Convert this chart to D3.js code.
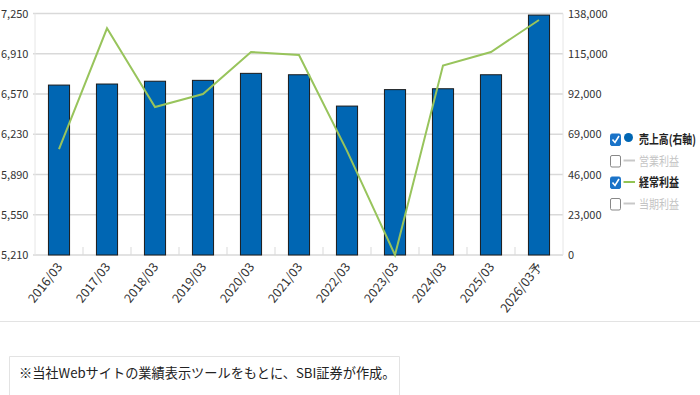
<!DOCTYPE html>
<html><head><meta charset="utf-8">
<script src="https://cdn.jsdelivr.net/npm/d3@7"></script>
<style>
body{margin:0;background:#fff;}
svg{display:block;font-family:"Noto Sans CJK JP","Noto Sans",sans-serif;}
</style></head>
<body><svg id="c" width="700" height="395"></svg>
<script>
const categories = ["2016/03","2017/03","2018/03","2019/03","2020/03","2021/03","2022/03","2023/03","2024/03","2025/03","2026/03予"];
const sales = [97100,97700,99300,99800,103800,103000,85100,94500,95000,103000,137100];
const ordinaryProfit = [6105,7125,6460,6570,6925,6900,6090,5210,6810,6925,7195];
const leftTicks = [5210,5550,5890,6230,6570,6910,7250];
const rightTicks = [0,23000,46000,69000,92000,115000,138000];
const legendItems = [
  {label:"売上高(右軸)", checked:true, kind:"dot", color:"#0066b3"},
  {label:"営業利益", checked:false, kind:"line", color:"#c8c8c8"},
  {label:"経常利益", checked:true, kind:"line", color:"#92c353"},
  {label:"当期利益", checked:false, kind:"line", color:"#c8c8c8"}
];
const note = "※当社Webサイトの業績表示ツールをもとに、SBI証券が作成。";

const svg = d3.select("#c");
const L=35, R=563, T=13.5, B=255;
const x = d3.scaleBand().domain(categories).range([L,R]).paddingInner(0.56).paddingOuter(0.28);
const yL = d3.scaleLinear().domain([5210,7250]).range([B,T]);
const yR = d3.scaleLinear().domain([0,138000]).range([B,T]);

// gridlines
svg.append("g").selectAll("line").data(leftTicks).join("line")
  .attr("x1",L-2).attr("x2",R).attr("y1",d=>yL(d)).attr("y2",d=>yL(d))
  .attr("stroke","#d9d9d9").attr("stroke-width",1.5);
// axis verticals
svg.append("line").attr("x1",L).attr("x2",L).attr("y1",T).attr("y2",B).attr("stroke","#e6e6e6");
svg.append("line").attr("x1",R).attr("x2",R).attr("y1",T).attr("y2",B).attr("stroke","#e6e6e6");

// left axis labels
svg.append("g").selectAll("text").data(leftTicks).join("text")
  .attr("x",1).attr("y",d=>yL(d)+4).attr("font-size",11).attr("fill","#333")
  .text(d=>d3.format(",")(d));
// right axis labels
svg.append("g").selectAll("text").data(rightTicks).join("text")
  .attr("x",568).attr("y",d=>yR(d)+4).attr("font-size",11).attr("fill","#333")
  .text(d=>d3.format(",")(d));

// category separator ticks
const step = x.step();
svg.append("g").selectAll("line").data(d3.range(1,categories.length)).join("line")
  .attr("x1",d=>L+d*step).attr("x2",d=>L+d*step).attr("y1",B-8).attr("y2",B)
  .attr("stroke","#d9d9d9");

// bars
svg.append("g").selectAll("rect").data(sales).join("rect")
  .attr("x",(d,i)=>x(categories[i])).attr("width",x.bandwidth())
  .attr("y",d=>yR(d)).attr("height",d=>B-yR(d))
  .attr("fill","#0066b3").attr("stroke","#1a1a1a").attr("stroke-width",1);

// line
const line = d3.line().x((d,i)=>x(categories[i])+x.bandwidth()/2).y(d=>yL(d));
svg.append("path").datum(ordinaryProfit).attr("d",line)
  .attr("fill","none").attr("stroke","#98c45c").attr("stroke-width",2);

// x labels
svg.append("g").selectAll("text").data(categories).join("text")
  .attr("transform",d=>`translate(${x(d)+x.bandwidth()/2+4},${267}) rotate(-52)`)
  .attr("text-anchor","end").attr("font-size",12.5).attr("fill","#333")
  .text(d=>d);

// legend
const lg = svg.append("g");
legendItems.forEach((it,i)=>{
  const cy = 139 + i*21.5;
  const g = lg.append("g");
  g.append("rect").attr("x",610.5).attr("y",cy-5).attr("width",10).attr("height",11.5).attr("rx",1.5)
    .attr("fill",it.checked?"#1a73c8":"#fff").attr("stroke",it.checked?"#1a73c8":"#888").attr("stroke-width",1);
  if(it.checked){
    g.append("path").attr("d",`M${612.5},${cy+0.5} l2.5,3 l4,-6.5`).attr("fill","none").attr("stroke","#fff").attr("stroke-width",1.6);
  }
  if(it.kind==="dot"){
    g.append("circle").attr("cx",628.5).attr("cy",cy-1.5).attr("r",4.5).attr("fill",it.color);
  } else {
    g.append("line").attr("x1",623.5).attr("x2",635).attr("y1",cy).attr("y2",cy).attr("stroke",it.color).attr("stroke-width",2);
  }
  const tg = g.append("g");
  const t = tg.append("text").attr("x",0).attr("y",0).attr("font-size",12.5)
    .attr("font-weight",it.checked?"bold":"normal")
    .attr("fill",it.checked?"#222":"#c4c4c4").text(it.label);
  const target = i===0 ? 57 : 40;
  const w = t.node().getComputedTextLength() || target;
  tg.attr("transform",`translate(639,${cy+5}) scale(${Math.min(1,target/w)},1)`);
});

// divider and note box
svg.append("line").attr("x1",0).attr("x2",700).attr("y1",321.5).attr("y2",321.5).attr("stroke","#e3e3e3");
svg.append("path").attr("d","M9.5,395 V356.5 H399.5 V395").attr("fill","none").attr("stroke","#e3e3e3");
svg.append("text").attr("x",19).attr("y",378).attr("font-size",13.2).attr("fill","#222").text(note);
</script></body></html>
